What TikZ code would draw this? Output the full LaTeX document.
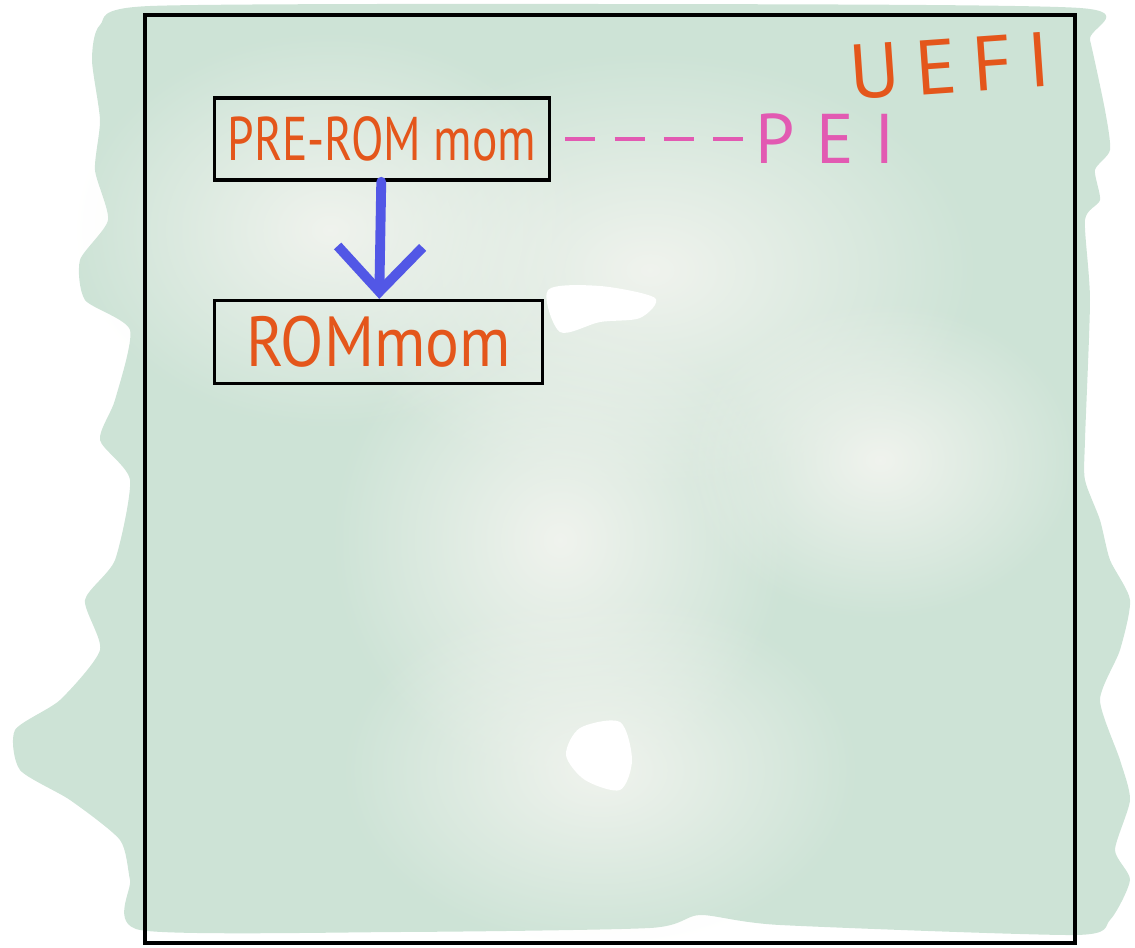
\documentclass[tikz,border=0pt]{standalone}
\usepackage{fontspec}
\setmainfont{PT Sans}
\usetikzlibrary{arrows.meta,positioning,fadings}
\definecolor{washgreen}{HTML}{CDE3D6}
\definecolor{washlight}{HTML}{F2F4EF}
\definecolor{markorange}{HTML}{E4561B}
\definecolor{markpink}{HTML}{E25AB2}
\definecolor{markblue}{HTML}{5257E6}
\newcommand{\tall}[2][1.3]{\scalebox{1}[#1]{#2}}
\tikzfading[name=softblob, inner color=transparent!0, outer color=transparent!100]

\begin{document}
\begin{tikzpicture}[x=0.01cm, y=-0.01cm,
    box/.style={draw=black, line width=1pt, inner sep=0pt, text=markorange,
      minimum width=3.35cm, minimum height=0.82cm},
    label/.style={inner sep=1pt, font=\fontsize{20}{22}\selectfont\addfontfeature{LetterSpace=30}},
    arrow/.style={-{Straight Barb[length=4.5mm, width=8.5mm, line width=2.8pt]},
      line width=2.8pt, draw=markblue, line cap=round},
    dashlink/.style={draw=markpink, line width=1.1pt, dash pattern=on 8.5pt off 5.5pt},
    blob/.style={fill=washlight, path fading=softblob, fill opacity=0.95}
  ]
    \useasboundingbox (0,0) rectangle (1135,948);

    \fill[washgreen] plot[smooth cycle, tension=0.4] coordinates {
      (150,6) (100,25) (92,60) (100,120) (95,170) (108,220) (80,260) (85,300)
      (130,330) (115,400) (100,440) (130,480) (115,560) (85,600) (100,650)
      (60,700) (15,730) (20,770) (70,800) (120,840) (130,880) (140,930)
      (400,932) (650,928) (700,915) (780,925) (1075,935) (1110,920) (1130,880)
      (1115,850) (1130,800) (1120,760) (1100,700) (1120,650) (1130,600)
      (1110,560) (1100,520) (1085,480) (1085,440) (1090,300) (1085,220)
      (1100,200) (1095,170) (1110,150) (1105,110) (1090,40) (1080,8) (600,4)};
    \fill[blob] (650,270) ellipse [x radius=330, y radius=220];
    \fill[blob] (560,540) ellipse [x radius=230, y radius=240];
    \fill[blob] (600,770) ellipse [x radius=260, y radius=180];
    \fill[blob] (330,230) ellipse [x radius=260, y radius=200];
    \fill[blob] (880,460) ellipse [x radius=200, y radius=160];
    \fill[white] plot[smooth cycle, tension=0.5] coordinates {
      (548,290) (600,286) (655,298) (640,318) (600,322) (560,332)};
    \fill[white] plot[smooth cycle, tension=0.5] coordinates {
      (580,728) (620,722) (632,760) (620,790) (585,780) (566,755)};
    \draw[line width=1.1pt] (145,15) rectangle (1075,943);

    \node[box] (prerom) at (382,139) {\fontsize{13.5}{16}\selectfont\tall{PRE-ROM mom}};
    \node[box, minimum width=3.28cm, minimum height=0.83cm,
      below=1.17cm of prerom.south west, anchor=north west] (rom)
      {\fontsize{18}{20}\selectfont\tall[1.12]{ROMmom}};
    \node[label, text=markpink, right=2.0cm of prerom.east, anchor=west] (pei) {PEI};
    \node[label, text=markorange, rotate=4, font=\fontsize{22}{24}\selectfont\addfontfeature{LetterSpace=20}]
      (uefi) at (950,66) {UEFI};

    \draw[arrow] (prerom) -- (rom);
    \draw[dashlink, shorten <=4pt] (prerom) -- (pei);
  \end{tikzpicture}
\end{document}
